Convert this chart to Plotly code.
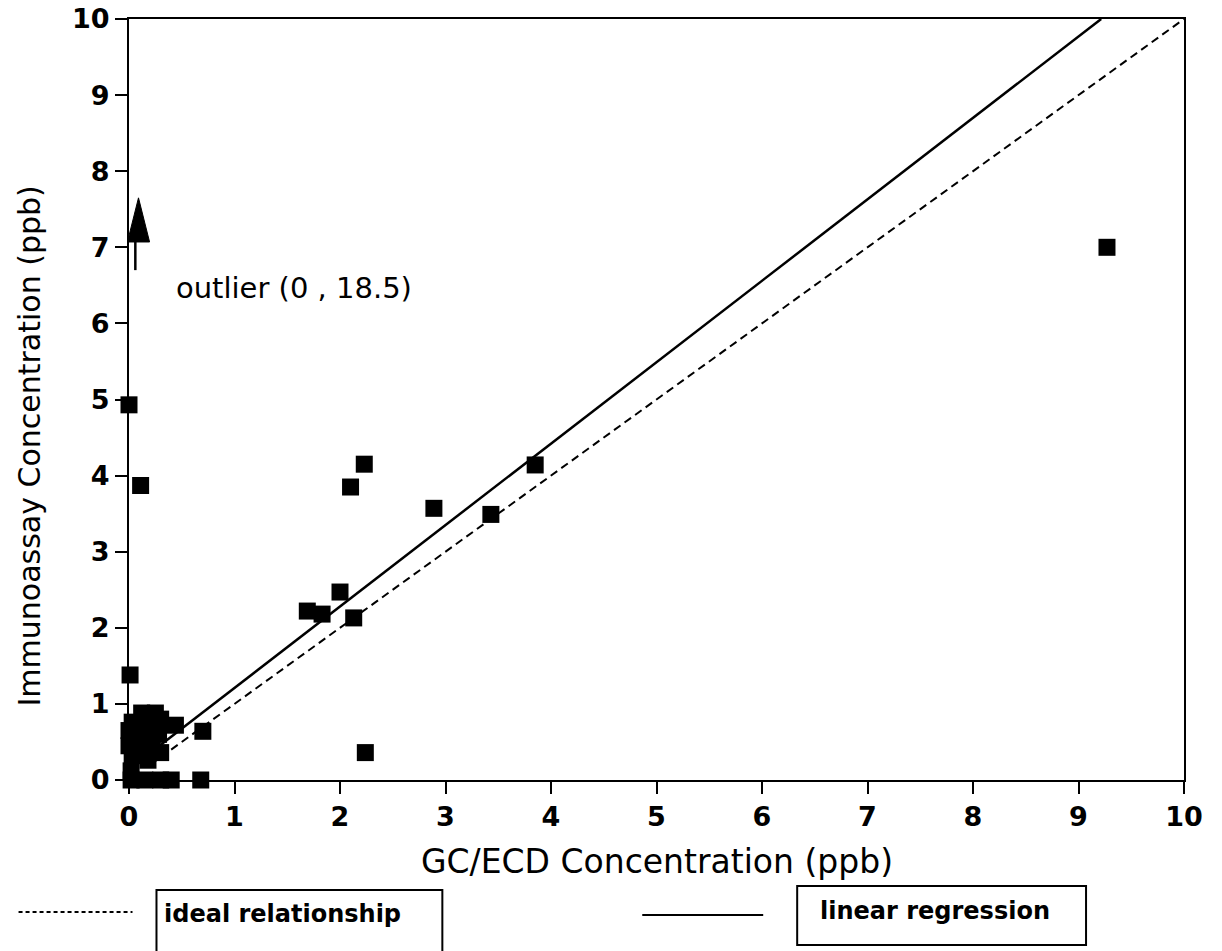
import plotly.graph_objects as go

# ---- data ----
gc_ecd = [0.00, 0.11, 0.01, 2.23, 2.10, 2.89, 3.43, 3.85, 2.00, 1.69, 1.83, 2.13,
          9.27, 2.24, 0.70, 0.68,
          0.25, 0.12, 0.03, 0.00, 0.12, 0.30, 0.44, 0.20, 0.28, 0.05, 0.16, 0.00,
          0.10, 0.22, 0.30, 0.03, 0.18, 0.02, 0.02, 0.15, 0.30, 0.40]
immuno = [4.93, 3.87, 1.38, 4.15, 3.85, 3.57, 3.49, 4.14, 2.47, 2.22, 2.18, 2.13,
          7.00, 0.36, 0.64, 0.00,
          0.88, 0.88, 0.76, 0.65, 0.74, 0.80, 0.72, 0.68, 0.60, 0.55, 0.52, 0.45,
          0.40, 0.42, 0.36, 0.32, 0.26, 0.12, 0.00, 0.00, 0.00, 0.00]

ideal_x = [0.2, 10.0]
reg_intercept = 0.14
reg_slope = 1.07
reg_x = [0.2, (10.0 - 0.14) / 1.07]

x_ticks = list(range(0, 11))
y_ticks = list(range(0, 11))

outlier_label = "outlier (0 , 18.5)"
arrow_x = 0.09
arrow_tip_y = 7.65
arrow_base_y = 7.07
arrow_tail_y = 6.70
arrow_half_w = 0.105

# ---- layout geometry (page has an 8px body margin) ----
OFF = 8
W, H = 1222 - OFF, 951 - OFF
L, R, T, B = 128.5 - OFF, 1184.0 - OFF, 19.0 - OFF, 780.0 - OFF
def px(x):  # screenshot pixel -> paper
    return (x - OFF - L) / (R - L)
def py(y):
    return (B - (y - OFF)) / (B - T)

FONT = "DejaVu Sans"

fig = go.Figure()

fig.add_trace(go.Scatter(
    x=ideal_x, y=ideal_x, mode="lines",
    line=dict(color="black", width=2, dash="8px,5px"),
    showlegend=False, hoverinfo="skip"))

fig.add_trace(go.Scatter(
    x=reg_x, y=[reg_intercept + reg_slope * v for v in reg_x], mode="lines",
    line=dict(color="black", width=2.5),
    showlegend=False, hoverinfo="skip"))

fig.add_trace(go.Scatter(
    x=gc_ecd, y=immuno, mode="markers",
    marker=dict(symbol="square", size=17, color="black", line=dict(width=0)),
    cliponaxis=False, showlegend=False))

shapes = []
# outlier arrow
shapes.append(dict(type="line", xref="x", yref="y", x0=arrow_x - 0.03, x1=arrow_x - 0.03,
                   y0=arrow_tail_y, y1=arrow_base_y, line=dict(color="black", width=2.5)))
shapes.append(dict(type="path", xref="x", yref="y",
                   path=f"M {arrow_x - arrow_half_w} {arrow_base_y} L {arrow_x + arrow_half_w} {arrow_base_y} L {arrow_x} {arrow_tip_y} Z",
                   fillcolor="black", line=dict(color="black", width=1)))
# legend: ideal relationship
shapes.append(dict(type="line", xref="paper", yref="paper", x0=px(18), x1=px(132),
                   y0=py(912), y1=py(912), line=dict(color="black", width=2, dash="4px,3px")))
shapes.append(dict(type="rect", xref="paper", yref="paper", x0=px(156), x1=px(442),
                   y0=py(890), y1=py(975), line=dict(color="black", width=2)))
# legend: linear regression
shapes.append(dict(type="line", xref="paper", yref="paper", x0=px(642), x1=px(763),
                   y0=py(915), y1=py(915), line=dict(color="black", width=2)))
shapes.append(dict(type="rect", xref="paper", yref="paper", x0=px(797), x1=px(1086),
                   y0=py(886), y1=py(945), line=dict(color="black", width=2)))

annotations = [
    dict(text=outlier_label, x=0.43, y=6.47, xref="x", yref="y", xanchor="left",
         yanchor="middle", showarrow=False, font=dict(family=FONT, size=29, color="black")),
    dict(text="GC/ECD Concentration (ppb)", x=px(657), y=py(862), xref="paper", yref="paper",
         xanchor="center", yanchor="middle", showarrow=False,
         font=dict(family=FONT, size=33, color="black")),
    dict(text="Immunoassay Concentration (ppb)", x=px(28), y=py(446), xref="paper", yref="paper",
         xanchor="center", yanchor="middle", textangle=-90, showarrow=False,
         font=dict(family=FONT, size=30, color="black")),
    dict(text="ideal relationship", x=px(162), y=py(914), xref="paper", yref="paper",
         xanchor="left", yanchor="middle", showarrow=False,
         font=dict(family=FONT, size=24, color="black", weight="bold")),
    dict(text="linear regression", x=px(818), y=py(911), xref="paper", yref="paper",
         xanchor="left", yanchor="middle", showarrow=False,
         font=dict(family=FONT, size=24, color="black", weight="bold")),
]

axis_common = dict(
    showline=True, linecolor="black", linewidth=2, mirror=True,
    ticks="outside", ticklen=12, tickwidth=2, tickcolor="black",
    showgrid=False, zeroline=False, automargin=False, ticklabeloverflow="allow",
    tickfont=dict(family=FONT, size=27, color="black", weight="bold"),
)

fig.update_layout(
    width=W, height=H, autosize=False,
    margin=dict(l=L, r=W - R, t=T, b=H - B, autoexpand=False),
    paper_bgcolor="white", plot_bgcolor="white",
    xaxis=dict(range=[0, 10], tickvals=x_ticks, ticktext=[str(v) for v in x_ticks], **axis_common),
    yaxis=dict(range=[0, 10], tickvals=y_ticks, ticktext=[str(v) for v in y_ticks], **axis_common),
    shapes=shapes, annotations=annotations, showlegend=False,
)

fig.write_html("out.html")
